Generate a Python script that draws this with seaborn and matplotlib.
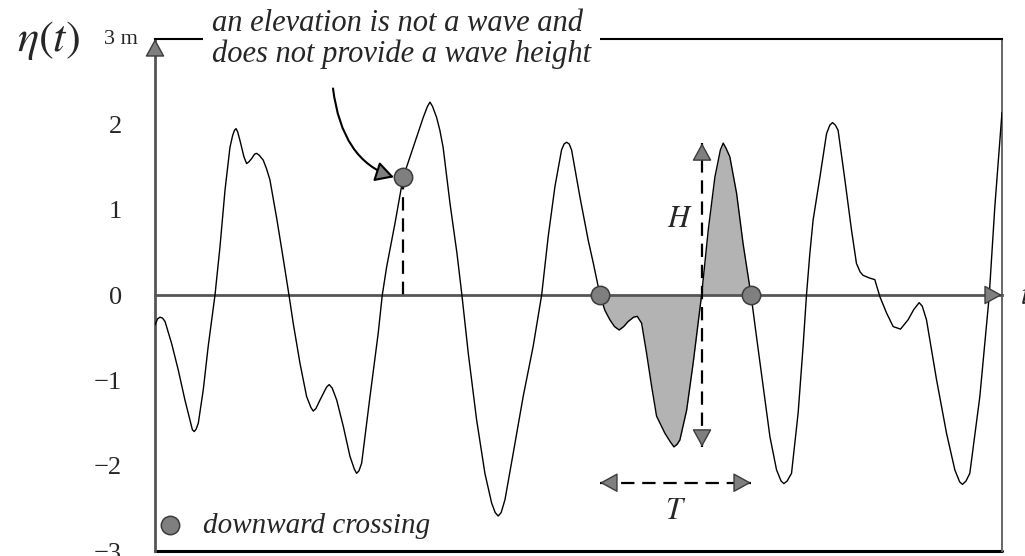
import matplotlib
matplotlib.use("Agg")
import matplotlib.pyplot as plt
import pandas as pd
import seaborn as sns

# Surface elevation record: time in tick periods, elevation in metres
t_obs = [0.000, 0.018, 0.035, 0.053, 0.071, 0.118, 0.165, 0.212, 0.245, 0.265,
         0.278, 0.292, 0.307, 0.342, 0.377, 0.425, 0.460, 0.496, 0.531, 0.550,
         0.563, 0.574, 0.586, 0.602, 0.630, 0.649, 0.665, 0.685, 0.705, 0.720,
         0.737, 0.767, 0.790, 0.814, 0.862, 0.909, 0.949, 0.979, 1.027, 1.074,
         1.105, 1.121, 1.140, 1.169, 1.215, 1.234, 1.255, 1.287, 1.334, 1.381,
         1.412, 1.428, 1.445, 1.464, 1.523, 1.581, 1.610, 1.641, 1.700, 1.758,
         1.829, 1.900, 1.930, 1.948, 1.966, 1.995, 2.018, 2.041, 2.090, 2.139,
         2.174, 2.219, 2.278, 2.337, 2.385, 2.410, 2.431, 2.452, 2.479, 2.538,
         2.608, 2.679, 2.739, 2.785, 2.833, 2.880, 2.898, 2.916, 2.934, 2.951,
         3.010, 3.069, 3.104, 3.152, 3.187, 3.222, 3.255, 3.288, 3.320, 3.352,
         3.390, 3.416, 3.447, 3.482, 3.518, 3.553, 3.612, 3.650, 3.676, 3.698,
         3.718, 3.766, 3.812, 3.872, 3.919, 3.966, 4.005, 4.025, 4.045, 4.072,
         4.120, 4.166, 4.222, 4.261, 4.308, 4.356, 4.403, 4.435, 4.455, 4.478,
         4.509, 4.556, 4.591, 4.615, 4.639, 4.662, 4.710, 4.757, 4.780, 4.799,
         4.820, 4.839, 4.887, 4.934, 4.969, 4.995, 5.016, 5.060, 5.099, 5.135,
         5.182, 5.229, 5.281, 5.335, 5.375, 5.413, 5.435, 5.465, 5.536, 5.607,
         5.666, 5.700, 5.720, 5.745, 5.772, 5.843, 5.909, 5.949, 6.000]
eta_obs = [-0.35, -0.28, -0.26, -0.27, -0.31, -0.57, -0.88, -1.23, -1.45, -1.58,
           -1.60, -1.57, -1.50, -1.11, -0.60, 0.00, 0.56, 1.23, 1.73, 1.87,
           1.93, 1.95, 1.91, 1.81, 1.62, 1.54, 1.56, 1.60, 1.65, 1.66,
           1.64, 1.58, 1.48, 1.35, 0.90, 0.42, 0.00, -0.33, -0.80, -1.19,
           -1.32, -1.36, -1.33, -1.23, -1.08, -1.05, -1.09, -1.23, -1.54, -1.89,
           -2.04, -2.09, -2.06, -1.97, -1.19, -0.45, 0.00, 0.33, 0.84, 1.38,
           1.73, 2.08, 2.21, 2.26, 2.21, 2.08, 1.93, 1.73, 1.07, 0.49,
           0.00, -0.68, -1.46, -2.09, -2.44, -2.55, -2.59, -2.55, -2.40, -1.85,
           -1.19, -0.60, 0.00, 0.68, 1.27, 1.70, 1.77, 1.79, 1.77, 1.70,
           1.15, 0.64, 0.38, 0.00, -0.18, -0.29, -0.37, -0.41, -0.37, -0.31,
           -0.26, -0.25, -0.33, -0.68, -1.07, -1.42, -1.62, -1.72, -1.78, -1.75,
           -1.70, -1.35, -0.80, 0.00, 0.76, 1.38, 1.70, 1.78, 1.72, 1.62,
           1.19, 0.60, 0.00, -0.49, -1.07, -1.66, -2.05, -2.18, -2.21, -2.18,
           -2.09, -1.38, -0.60, 0.00, 0.49, 0.88, 1.38, 1.89, 1.99, 2.02,
           1.99, 1.93, 1.35, 0.76, 0.37, 0.27, 0.23, 0.20, 0.18, -0.02,
           -0.21, -0.37, -0.40, -0.29, -0.17, -0.09, -0.13, -0.29, -0.99, -1.62,
           -2.05, -2.19, -2.22, -2.18, -2.09, -1.19, -0.02, 1.03, 2.14]

# Zero down-crossings bounding the highlighted wave
cross_t = [3.152, 4.222]
cross_eta = [0.0, 0.0]

# A single elevation sample on a rising flank
elev_t = [1.758]
elev_eta = [1.38]

# Crest and trough of the highlighted wave, and its zero up-crossing
crest_eta = 1.78
trough_eta = -1.78
upcross_t = 3.875
period_level = -2.20

x_ticks = [1, 2, 3, 4, 5]
y_ticks = [-3, -2, -1, 0, 1, 2, 3]
y_ticklabels = ["\u22123", "\u22122", "\u22121", "0", "1", "2", ""]

GREY_FILL = "#b3b3b3"
MARK_FACE = "#7f7f7f"
MARK_EDGE = "#3c3c3c"

sns.set_style("white")
plt.rcParams["font.family"] = ["Liberation Serif", "DejaVu Serif"]
plt.rcParams["mathtext.fontset"] = "stix"

W, H = 1025, 556
fig = plt.figure(figsize=(W / 100, H / 100), dpi=100)
ax = fig.add_axes([155 / W, 5 / H, 847 / W, 512 / H])

df = pd.DataFrame({"t": t_obs, "eta": eta_obs})

# shaded wave between the two down-crossings
in_wave = (df["t"] >= cross_t[0]) & (df["t"] <= cross_t[1])
ax.fill_between(df["t"], df["eta"], 0, where=in_wave, interpolate=True,
                color=GREY_FILL, lw=0, zorder=1)

sns.lineplot(data=df, x="t", y="eta", color="black", lw=1.0,
             estimator=None, ax=ax, zorder=3)

# axis frame: x axis through zero, box around
ax.set_xlim(0, 6)
ax.set_ylim(-3, 3)
ax.spines["bottom"].set_position(("data", 0))
for side, col, lw in [("bottom", "#555555", 2.0), ("left", "#555555", 2.0),
                      ("top", "black", 1.5), ("right", "#666666", 1.4)]:
    ax.spines[side].set_visible(True)
    ax.spines[side].set_color(col)
    ax.spines[side].set_linewidth(lw)
    ax.spines[side].set_zorder(2.5)
ax.axhline(-3, color="black", lw=2.2, zorder=2.5, clip_on=False)

ax.set_xticks(x_ticks)
ax.set_xticklabels([])
ax.set_yticks(y_ticks)
ax.set_yticklabels(y_ticklabels)
ax.tick_params(axis="x", direction="out", length=5, width=1.4, color="black")
ax.tick_params(axis="y", direction="out", length=5, width=1.4, color="#333333",
               labelsize=19, pad=19)
ax.set_xlabel("")
ax.set_ylabel("")

ax.annotate("3 m", xy=(0, 3), xytext=(-17, 0), textcoords="offset pixels",
            ha="right", va="center", fontsize=16)

# down-crossing markers and the elevation sample
sns.scatterplot(x=cross_t, y=cross_eta, s=175, color=MARK_FACE,
                edgecolor=MARK_EDGE, linewidth=1.1, label="downward crossing",
                zorder=6, ax=ax, clip_on=False)
sns.scatterplot(x=elev_t, y=elev_eta, s=175, color=MARK_FACE,
                edgecolor=MARK_EDGE, linewidth=1.1, legend=False,
                zorder=6, ax=ax)
ax.plot([elev_t[0], elev_t[0]], [0, elev_eta[0]], color="black", lw=1.6,
        ls=(0, (6, 3.5)), zorder=2)

HEAD = "-|>,head_length=0.4,head_width=0.22"


def head(x, y, ux, uy, size=11.0):
    """Grey filled arrowhead with its tip at (x, y) pointing along (ux, uy)."""
    ax.annotate("", xy=(x, y), xytext=(-ux * size, -uy * size),
                textcoords="offset points", annotation_clip=False,
                arrowprops=dict(arrowstyle=HEAD, mutation_scale=28,
                                fc=MARK_FACE, ec=MARK_EDGE, lw=1.0,
                                shrinkA=0, shrinkB=0),
                zorder=7)


# axis arrowheads
head(6, 0, 1, 0)
head(0, 3, 0, 1)

# wave height H
ax.plot([upcross_t, upcross_t], [trough_eta, crest_eta], color="black",
        lw=1.6, ls=(0, (6, 3.5)), zorder=4)
head(upcross_t, crest_eta, 0, 1)
head(upcross_t, trough_eta, 0, -1)
ax.text(3.718, 0.88, "$H$", fontsize=22, ha="center", va="center")

# wave period T
ax.plot(cross_t, [period_level, period_level], color="black", lw=1.6,
        ls=(0, (6, 3.5)), zorder=4)
head(cross_t[1], period_level, 1, 0)
head(cross_t[0], period_level, -1, 0)
ax.text(sum(cross_t) / 2, -2.54, "$T$", fontsize=22, ha="center",
        va="center")

# remark about the elevation sample
ax.annotate("", xy=(1.693, 1.38), xytext=(1.261, 2.42),
            arrowprops=dict(arrowstyle=HEAD, mutation_scale=28,
                            connectionstyle="angle3,angleA=-83,angleB=-18",
                            fc=MARK_FACE, ec="black", lw=1.5,
                            shrinkA=0, shrinkB=0),
            zorder=5)
ax.text(0.404, 3.0, "an elevation is not a wave and\ndoes not provide a wave height",
        style="italic", fontsize=22, ha="left", va="center", linespacing=1.1,
        bbox=dict(boxstyle="square,pad=0.3", fc="white", ec="none"),
        zorder=10, clip_on=False)

ax.legend(loc="lower left", bbox_to_anchor=(0.0, 0.018), frameon=False,
          prop={"style": "italic", "size": 21}, handletextpad=0.75,
          borderaxespad=0.0, handlelength=0.8, borderpad=0.1)

fig.text(80 / W, 1 - 40 / H, r"$\eta(t)$", fontsize=32, ha="right",
         va="center")
fig.text(1020 / W, 1 - 297 / H, "$t$", fontsize=22, ha="left", va="center")

fig.savefig("out.png", dpi=100)
